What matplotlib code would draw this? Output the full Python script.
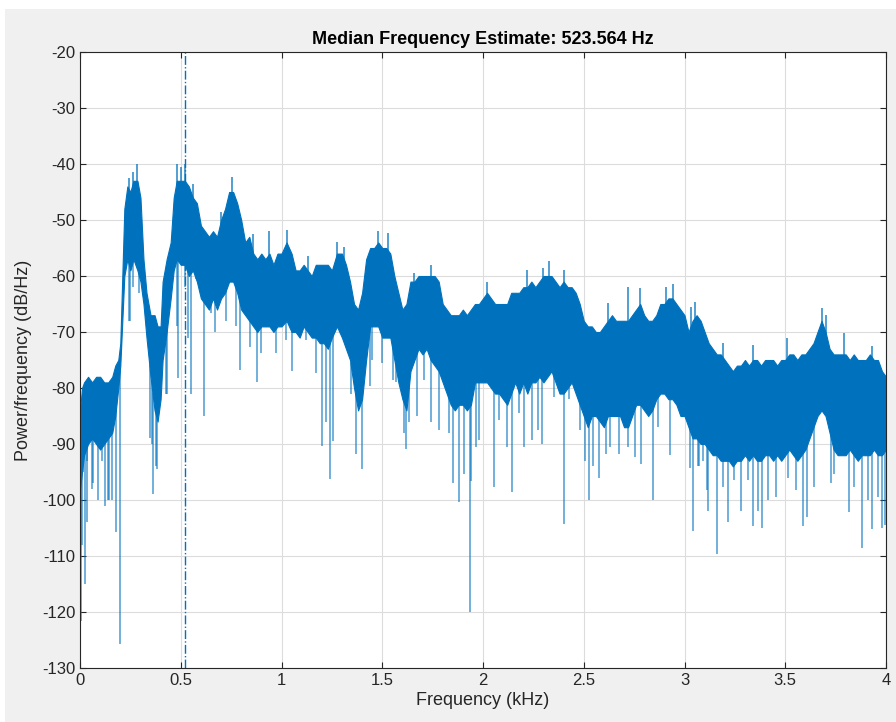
import matplotlib
matplotlib.use("Agg")
import matplotlib.pyplot as plt
from matplotlib.patches import Rectangle
import numpy as np

plt.rcParams['font.family'] = ['Liberation Sans', 'DejaVu Sans']
plt.rcParams['axes.unicode_minus'] = False

# ---- data ----
freq_khz = [0.000, 0.010, 0.020, 0.040, 0.060, 0.080, 0.100, 0.120, 0.140, 0.160,
            0.175, 0.190, 0.200, 0.210, 0.220, 0.235, 0.250, 0.265, 0.285, 0.300,
            0.315, 0.330, 0.350, 0.370, 0.385, 0.400, 0.410, 0.430, 0.450, 0.465,
            0.480, 0.500, 0.520, 0.540, 0.560, 0.580, 0.600, 0.620, 0.640, 0.660,
            0.680, 0.700, 0.720, 0.740, 0.760, 0.780, 0.800, 0.820, 0.840, 0.860,
            0.880, 0.900, 0.920, 0.940, 0.960, 0.980, 1.000, 1.025, 1.050, 1.070,
            1.090, 1.110, 1.130, 1.150, 1.170, 1.190, 1.210, 1.230, 1.250, 1.275,
            1.300, 1.320, 1.340, 1.360, 1.380, 1.400, 1.420, 1.440, 1.460, 1.480,
            1.500, 1.520, 1.540, 1.560, 1.580, 1.600, 1.620, 1.640, 1.660, 1.680,
            1.700, 1.720, 1.740, 1.760, 1.780, 1.800, 1.820, 1.840, 1.860, 1.880,
            1.900, 1.920, 1.940, 1.960, 1.980, 2.000, 2.020, 2.040, 2.060, 2.080,
            2.100, 2.120, 2.140, 2.160, 2.180, 2.200, 2.220, 2.240, 2.260, 2.280,
            2.300, 2.320, 2.340, 2.360, 2.380, 2.400, 2.420, 2.440, 2.460, 2.480,
            2.500, 2.520, 2.540, 2.560, 2.580, 2.600, 2.620, 2.640, 2.660, 2.680,
            2.700, 2.720, 2.740, 2.760, 2.780, 2.800, 2.820, 2.840, 2.860, 2.880,
            2.900, 2.920, 2.940, 2.960, 2.980, 3.000, 3.020, 3.040, 3.060, 3.080,
            3.100, 3.120, 3.140, 3.160, 3.180, 3.200, 3.220, 3.240, 3.260, 3.280,
            3.300, 3.320, 3.340, 3.360, 3.380, 3.400, 3.420, 3.440, 3.460, 3.480,
            3.500, 3.520, 3.540, 3.560, 3.580, 3.600, 3.620, 3.640, 3.660, 3.680,
            3.700, 3.720, 3.740, 3.760, 3.780, 3.800, 3.820, 3.840, 3.860, 3.880,
            3.900, 3.920, 3.940, 3.960, 3.980, 4.000]

upper_db = [-84, -80, -79, -78, -79, -78, -78, -79, -79, -78,
            -76, -75, -72, -60, -48, -44, -45, -43, -43, -46,
            -57, -63, -67, -67, -69, -69, -61, -57, -54, -46,
            -43, -43, -43, -44, -46, -47, -51, -52, -53, -52,
            -53, -50, -48, -45, -45, -47, -50, -54, -53, -56,
            -57, -56, -57, -56, -58, -56, -56, -54, -56, -59,
            -59, -58, -59, -60, -58, -58, -58, -58, -59, -56,
            -56, -58, -61, -65, -66, -63, -57, -55, -55, -54,
            -55, -55, -56, -60, -63, -66, -65, -61, -61, -60,
            -60, -60, -60, -60, -61, -65, -66, -67, -67, -67,
            -66, -67, -66, -65, -65, -64, -63, -64, -65, -65,
            -65, -65, -63, -63, -63, -62, -62, -61, -62, -61,
            -60, -60, -60, -61, -62, -61, -62, -62, -63, -65,
            -68, -69, -69, -70, -70, -69, -68, -67, -68, -68,
            -68, -68, -67, -66, -65, -67, -68, -68, -67, -65,
            -65, -64, -64, -65, -66, -67, -70, -68, -67, -68,
            -70, -72, -73, -74, -74, -75, -76, -77, -76, -76,
            -75, -76, -75, -75, -76, -75, -75, -75, -76, -75,
            -75, -74, -74, -75, -74, -74, -73, -72, -70, -68,
            -70, -73, -74, -74, -74, -74, -75, -74, -75, -75,
            -75, -74, -75, -75, -77, -78]

lower_db = [-98, -95, -92, -90, -89, -90, -91, -90, -89, -88,
            -85, -80, -76, -68, -60, -57, -59, -57, -59, -61,
            -65, -71, -78, -84, -86, -82, -75, -70, -64, -59,
            -57, -58, -58, -60, -59, -61, -64, -65, -66, -64,
            -66, -64, -63, -61, -61, -63, -66, -67, -68, -69,
            -70, -69, -69, -69, -70, -69, -69, -68, -70, -70,
            -71, -69, -70, -71, -71, -72, -72, -73, -71, -69,
            -71, -73, -75, -80, -84, -82, -75, -69, -69, -69,
            -71, -71, -71, -75, -79, -82, -84, -77, -75, -73,
            -74, -73, -75, -76, -77, -79, -81, -83, -84, -83,
            -83, -84, -83, -79, -79, -79, -79, -80, -81, -81,
            -82, -83, -81, -79, -81, -79, -81, -79, -79, -78,
            -79, -78, -77, -79, -81, -81, -80, -79, -81, -83,
            -85, -87, -85, -85, -86, -87, -85, -85, -85, -85,
            -87, -87, -85, -83, -83, -84, -85, -84, -82, -81,
            -81, -82, -82, -83, -85, -85, -87, -89, -89, -90,
            -90, -91, -92, -92, -93, -93, -93, -94, -93, -93,
            -92, -93, -92, -93, -93, -92, -92, -93, -92, -93,
            -92, -91, -92, -93, -92, -91, -89, -87, -85, -84,
            -85, -88, -91, -92, -92, -92, -91, -92, -93, -92,
            -92, -92, -91, -92, -92, -91]

# downward spikes (frequency in kHz, level in dB/Hz)
dip_khz = [0.003, 0.012, 0.017, 0.025, 0.033, 0.035, 0.060, 0.066, 0.090, 0.107,
           0.124, 0.140, 0.145, 0.157, 0.177, 0.198, 0.245, 0.248, 0.264, 0.294,
           0.347, 0.355, 0.363, 0.376, 0.383, 0.429, 0.432, 0.479, 0.487, 0.520,
           0.536, 0.553, 0.578, 0.614, 0.652, 0.671, 0.726, 0.776, 0.792, 0.842,
           0.876, 0.900, 0.974, 1.023, 1.053, 1.124, 1.173, 1.203, 1.222, 1.239,
           1.255, 1.346, 1.370, 1.400, 1.437, 1.450, 1.500, 1.552, 1.570, 1.610,
           1.618, 1.634, 1.670, 1.705, 1.741, 1.780, 1.816, 1.832, 1.852, 1.880,
           1.906, 1.936, 1.940, 1.964, 1.980, 2.054, 2.080, 2.120, 2.145, 2.178,
           2.203, 2.244, 2.274, 2.294, 2.350, 2.400, 2.426, 2.483, 2.508, 2.528,
           2.545, 2.574, 2.610, 2.632, 2.673, 2.720, 2.756, 2.786, 2.843, 2.870,
           2.930, 2.987, 3.028, 3.043, 3.065, 3.073, 3.090, 3.110, 3.115, 3.159,
           3.190, 3.214, 3.247, 3.280, 3.313, 3.338, 3.363, 3.383, 3.412, 3.454,
           3.512, 3.553, 3.586, 3.610, 3.644, 3.727, 3.743, 3.818, 3.842, 3.879,
           3.909, 3.933, 3.958, 3.980, 3.995]
dip_db = [-121.6, -108, -95, -115, -93, -104, -98, -97, -100, -93,
          -101, -100, -100, -100, -105.7, -125.8, -68, -68, -62, -63,
          -89, -90, -99, -94, -94.4, -81, -81, -69, -78.2, -62,
          -71, -81, -60.6, -85, -66.6, -70, -68, -69, -76.8, -72.6,
          -79, -73.8, -73.8, -71.4, -77, -71.4, -77.4, -90.4, -86, -96.2,
          -89.5, -81, -91.7, -94.4, -79.7, -75, -75.6, -78.6, -79, -88,
          -90.9, -86, -85, -78.6, -86, -87.5, -79.8, -88, -97, -100.4,
          -95.3, -120, -96.6, -90.5, -89.3, -97.7, -85.7, -90.5, -98.6, -84.5,
          -90.5, -89.3, -87.5, -90, -81.6, -104.3, -82, -87.5, -93, -100,
          -94, -96, -91.7, -90.5, -91.7, -90.5, -92.3, -93.5, -100, -87,
          -92, -82, -94.3, -105.5, -94, -94, -93, -98.3, -102, -109.7,
          -97.7, -104, -96.5, -102, -96.5, -104.6, -102, -105, -100, -99.5,
          -96, -98.3, -104.6, -103, -97.7, -97, -95.3, -102.2, -97.7, -108.5,
          -100, -105.2, -99.5, -105, -104.5]

# upward spikes on the top edge
peak_khz = [0.245, 0.262, 0.285, 0.480, 0.500, 0.520, 0.560, 0.700, 0.754, 0.860,
            0.940, 1.025, 1.130, 1.275, 1.310, 1.478, 1.527, 1.659, 1.740, 2.020,
            2.220, 2.300, 2.330, 2.400, 2.620, 2.720, 2.780, 2.910, 2.945, 3.030,
            3.050, 3.190, 3.340, 3.510, 3.680, 3.700, 3.790, 3.930]
peak_db = [-42.5, -41.5, -40, -40, -40.5, -40, -43.5, -48.5, -42.4, -52.5,
           -52, -51.7, -56.4, -54, -54.8, -52, -52.3, -59.4, -58, -61,
           -59, -58.5, -57.4, -59, -64.8, -62, -62.1, -62, -61.5, -65.5,
           -64.7, -72, -72.3, -71, -65.7, -67, -70.2, -72.5]

median_freq_khz = 0.523564

blue = '#0072BD'

fig = plt.figure(figsize=(8.96, 7.22), dpi=100, facecolor='#f0f0f0')
fig.patches.append(Rectangle((0, 1 - 9 / 722), 1, 9 / 722, transform=fig.transFigure,
                             facecolor='white', edgecolor='none', zorder=-1))
fig.patches.append(Rectangle((0, 0), 5 / 896, 1, transform=fig.transFigure,
                             facecolor='white', edgecolor='none', zorder=-1))
ax = fig.add_axes([80 / 896, 54 / 722, 806 / 896, 616 / 722])
ax.set_facecolor('white')

ax.fill_between(freq_khz, lower_db, upper_db, color=blue, linewidth=0.8, edgecolor=blue)
low_at_dip = np.interp(dip_khz, freq_khz, lower_db)
ax.vlines(dip_khz, low_at_dip + 1, dip_db, color=blue, alpha=0.65, linewidth=1.2)
up_at_peak = np.interp(peak_khz, freq_khz, upper_db)
ax.vlines(peak_khz, up_at_peak - 1, peak_db, color=blue, alpha=0.8, linewidth=1.2)

ax.axvline(median_freq_khz, color=blue, linestyle='-.', linewidth=1.0)

ax.set_xlim(0, 4)
ax.set_ylim(-130, -20)
ax.set_xticks([0, 0.5, 1, 1.5, 2, 2.5, 3, 3.5, 4])
ax.set_xticklabels(['0', '0.5', '1', '1.5', '2', '2.5', '3', '3.5', '4'])
ax.set_yticks(list(range(-130, -19, 10)))
ax.grid(True, color='#dcdcdc', linewidth=0.8)
ax.set_axisbelow(True)
ax.tick_params(direction='in', length=4, labelsize=12, colors='#262626',
               top=True, right=True, labeltop=False, labelright=False)
for s in ax.spines.values():
    s.set_color('#262626')
    s.set_linewidth(0.8)
ax.set_xlabel('Frequency (kHz)', fontsize=13, color='#262626', labelpad=3)
ax.set_ylabel('Power/frequency (dB/Hz)', fontsize=13, color='#262626', labelpad=7)
ax.set_title('Median Frequency Estimate: 523.564 Hz', fontsize=13, fontweight='bold',
             color='black', pad=6)

fig.savefig('out.png', dpi=100, facecolor=fig.get_facecolor())
